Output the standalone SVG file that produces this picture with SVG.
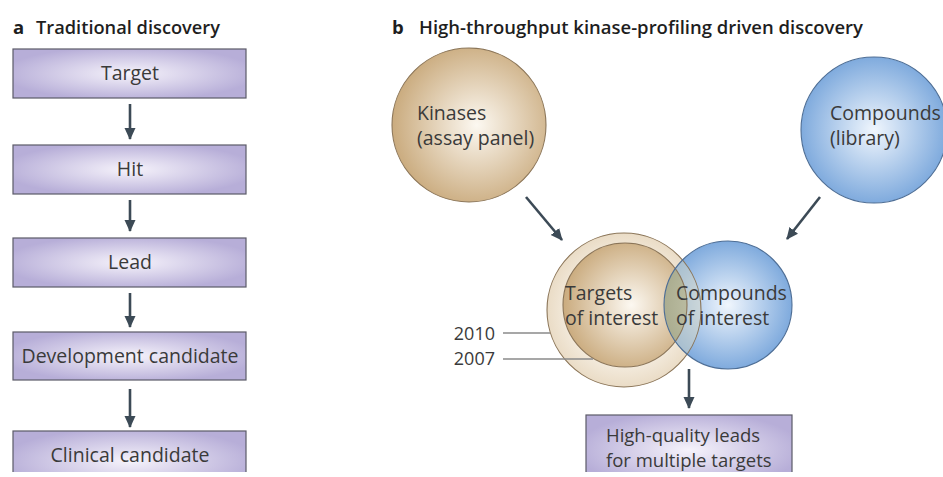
<svg xmlns="http://www.w3.org/2000/svg" width="943" height="477" viewBox="0 0 943 477">
<defs>
  <radialGradient id="boxGrad" cx="50%" cy="50%" r="55%">
    <stop offset="0" stop-color="#f6f3fb"/>
    <stop offset="1" stop-color="#b7aed8"/>
  </radialGradient>
  <radialGradient id="tanGrad" cx="55%" cy="50%" r="55%">
    <stop offset="0" stop-color="#fcf8f1"/>
    <stop offset="1" stop-color="#caab7e"/>
  </radialGradient>
  <radialGradient id="blueGrad" cx="50%" cy="50%" r="55%">
    <stop offset="0" stop-color="#f0f6fd"/>
    <stop offset="1" stop-color="#74a3da"/>
  </radialGradient>
  <radialGradient id="ringGrad" cx="50%" cy="50%" r="50%">
    <stop offset="0.7" stop-color="#f4ecdf"/>
    <stop offset="1" stop-color="#eadcc6"/>
  </radialGradient>
  <radialGradient id="overlapGrad" cx="50%" cy="50%" r="50%">
    <stop offset="0" stop-color="#d3d4bd"/>
    <stop offset="1" stop-color="#abad90"/>
  </radialGradient>
  <clipPath id="clipInner"><circle cx="625" cy="305" r="62"/></clipPath>
  <clipPath id="clipRing"><circle cx="624" cy="310" r="77"/></clipPath>
  <clipPath id="clipBottom"><rect x="0" y="0" width="943" height="472"/></clipPath>
  <marker id="arrow" markerUnits="userSpaceOnUse" markerWidth="12" markerHeight="12" viewBox="0 0 12 12" refX="11" refY="6" orient="auto">
    <path d="M0,0.5 L12,6 L0,11.5 z" fill="#3c4a56"/>
  </marker>
  <style>
    .box { fill: url(#boxGrad); stroke: #5b5a68; stroke-width: 1.2; }
    .lbl { font-family: "Open Sans", "Liberation Sans", sans-serif; font-size: 19.5px; fill: #3a3a3a; }
    .sm { font-size: 18px; }
    .hq { font-size: 18.5px; }
    .mid { text-anchor: middle; }
    .title { font-family: "Open Sans", "Liberation Sans", sans-serif; font-size: 18.5px; font-weight: 600; fill: #1e1e1e; }
    .conn { stroke: #3c4a56; stroke-width: 2.6; fill: none; marker-end: url(#arrow); }
    .lead { stroke: #8a8a8a; stroke-width: 1.3; fill: none; }
    .tanEdge { stroke: #8b7558; stroke-width: 1.1; }
    .blueEdge { stroke: #4e6e95; stroke-width: 1.1; }
  </style>
</defs>

<g id="title-a">
  <text class="title" x="13" y="34" style="font-weight:700">a</text>
  <text class="title" x="36" y="34" textLength="184" lengthAdjust="spacingAndGlyphs">Traditional discovery</text>
</g>
<g id="title-b">
  <text class="title" x="392" y="34" style="font-weight:700">b</text>
  <text class="title" x="419" y="34" textLength="444" lengthAdjust="spacingAndGlyphs">High-throughput kinase-profiling driven discovery</text>
</g>

<g id="target">
  <rect class="box" x="13" y="49" width="233" height="49"/>
  <text class="lbl mid" x="130" y="80">Target</text>
</g>
<g id="hit">
  <rect class="box" x="13" y="145" width="233" height="49"/>
  <text class="lbl mid" x="130" y="176">Hit</text>
</g>
<g id="lead">
  <rect class="box" x="13" y="238" width="233" height="49"/>
  <text class="lbl mid" x="130" y="269">Lead</text>
</g>
<g id="development">
  <rect class="box" x="13" y="332" width="233" height="48"/>
  <text class="lbl mid" x="130" y="363">Development candidate</text>
</g>
<g id="clinical" clip-path="url(#clipBottom)">
  <rect class="box" x="13" y="431" width="233" height="60"/>
  <text class="lbl mid" x="130" y="462">Clinical candidate</text>
</g>

<g id="kinases">
  <circle cx="469" cy="125" r="77" fill="url(#tanGrad)" class="tanEdge"/>
  <text class="lbl" x="417" y="120">Kinases</text>
  <text class="lbl" x="417" y="145">(assay panel)</text>
</g>
<g id="compounds">
  <circle cx="874" cy="130" r="73" fill="url(#blueGrad)" class="blueEdge"/>
  <text class="lbl" x="830" y="120">Compounds</text>
  <text class="lbl" x="830" y="145">(library)</text>
</g>

<g id="venn">
  <circle cx="624" cy="310" r="77" fill="url(#ringGrad)"/>
  <circle cx="625" cy="305" r="62" fill="url(#tanGrad)"/>
  <circle cx="728" cy="305" r="64" fill="url(#blueGrad)"/>
  <circle cx="728" cy="305" r="64" fill="#d9d6bf" opacity="0.45" clip-path="url(#clipRing)"/>
  <circle cx="728" cy="305" r="64" fill="url(#overlapGrad)" clip-path="url(#clipInner)"/>
  <circle cx="624" cy="310" r="77" fill="none" class="tanEdge"/>
  <circle cx="625" cy="305" r="62" fill="none" class="tanEdge"/>
  <circle cx="728" cy="305" r="64" fill="none" class="blueEdge"/>
</g>
<g id="targets-of-interest">
  <text class="lbl" x="565" y="300">Targets</text>
  <text class="lbl" x="565" y="325">of interest</text>
</g>
<g id="compounds-of-interest">
  <text class="lbl" x="676" y="300">Compounds</text>
  <text class="lbl" x="676" y="325">of interest</text>
</g>

<g id="year-2010">
  <text class="lbl sm" x="495" y="340" text-anchor="end">2010</text>
  <line class="lead" x1="503" y1="333" x2="550" y2="333"/>
</g>
<g id="year-2007">
  <text class="lbl sm" x="495" y="365" text-anchor="end">2007</text>
  <line class="lead" x1="503" y1="359" x2="593" y2="359"/>
</g>

<g id="high-quality-leads" clip-path="url(#clipBottom)">
  <rect class="box" x="586" y="415" width="206" height="70"/>
  <text class="lbl hq" x="606" y="442">High-quality leads</text>
  <text class="lbl hq" x="606" y="467">for multiple targets</text>
</g>

<g id="connectors">
  <line class="conn" x1="130" y1="104" x2="130" y2="139"/>
  <line class="conn" x1="130" y1="200" x2="130" y2="231"/>
  <line class="conn" x1="130" y1="293" x2="130" y2="327"/>
  <line class="conn" x1="130" y1="389" x2="130" y2="427"/>
  <line class="conn" x1="526" y1="197" x2="562" y2="240"/>
  <line class="conn" x1="820" y1="197" x2="787" y2="239"/>
  <line class="conn" x1="689" y1="369" x2="689" y2="408"/>
</g>
</svg>
